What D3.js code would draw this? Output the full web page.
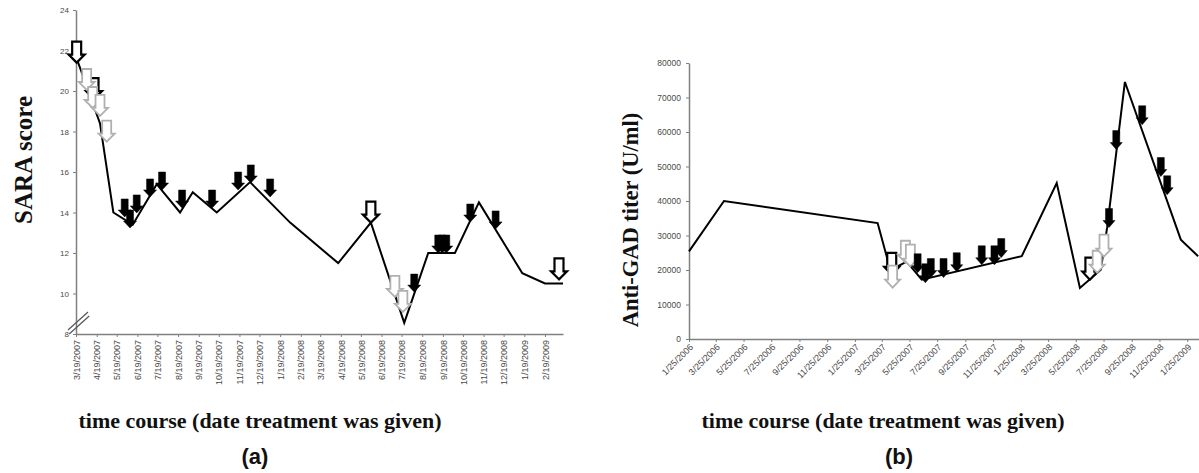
<!DOCTYPE html>
<html>
<head>
<meta charset="utf-8">
<script src="https://cdn.jsdelivr.net/npm/d3@7"></script>
<style>
  body { margin: 0; background: #fff; }
  .tick text { font-family: "Liberation Sans", Arial, sans-serif; fill: #4a4a4a; }
  .domain, .tick line { stroke: #808080; }
  .title { font-family: "Liberation Serif", "Times New Roman", serif; font-weight: bold; fill: #111; }
  .panel { font-family: "Liberation Sans", Arial, sans-serif; fill: #111; }
</style>
</head>
<body>
<div id="chart"></div>
<script>
// ---- Panel (a): SARA score ----
const sara_dates = ["2007-03-19","2007-04-24","2007-05-14","2007-06-12","2007-07-18","2007-08-22",
  "2007-09-10","2007-10-16","2007-12-05","2008-02-03","2008-04-15","2008-06-03","2008-07-23",
  "2008-08-28","2008-10-07","2008-11-12","2009-01-16","2009-02-19","2009-03-18"];
const sara_values = [21.7, 18.4, 14.0, 13.4, 15.4, 14.0, 15.0, 14.0, 15.5, 13.5, 11.5, 13.5, 8.55,
  12.0, 12.0, 14.5, 11.0, 10.5, 10.5];
const sara_ticks = ["3/19/2007","4/19/2007","5/19/2007","6/19/2007","7/19/2007","8/19/2007",
  "9/19/2007","10/19/2007","11/19/2007","12/19/2007","1/19/2008","2/19/2008","3/19/2008",
  "4/19/2008","5/19/2008","6/19/2008","7/19/2008","8/19/2008","9/19/2008","10/19/2008",
  "11/19/2008","12/19/2008","1/19/2009","2/19/2009"];
const sara_yticks = [8, 10, 12, 14, 16, 18, 20, 22, 24];
// treatment arrows (tip position): "open" = black outline, "light" = grey outline, "filled" = black
const sara_arrows = [
  ["2007-03-20", 21.4, "open"], ["2007-04-15", 19.6, "open"], ["2008-06-03", 13.5, "open"], ["2009-03-12", 10.7, "open"],
  ["2007-04-04", 20.05, "light"], ["2007-04-13", 19.16, "light"], ["2007-04-24", 18.77, "light"], ["2007-05-04", 17.5, "light"],
  ["2008-07-09", 9.83, "light"], ["2008-07-21", 9.09, "light"],
  ["2007-05-31", 13.78, "filled"], ["2007-06-08", 13.23, "filled"], ["2007-06-18", 13.98, "filled"],
  ["2007-07-08", 14.77, "filled"], ["2007-07-26", 15.11, "filled"], ["2007-08-25", 14.22, "filled"],
  ["2007-10-09", 14.22, "filled"], ["2007-11-17", 15.11, "filled"], ["2007-12-06", 15.46, "filled"],
  ["2008-01-04", 14.77, "filled"], ["2008-08-07", 10.07, "filled"], ["2008-09-12", 12.0, "filled"],
  ["2008-09-18", 12.0, "filled"], ["2008-09-24", 12.0, "filled"], ["2008-10-30", 13.53, "filled"],
  ["2008-12-07", 13.19, "filled"]
];

// ---- Panel (b): Anti-GAD titer ----
const gad_dates = ["2006-01-25","2006-04-12","2007-03-16","2007-04-13","2007-05-19","2007-06-21",
  "2008-01-27","2008-04-13","2008-06-03","2008-07-19","2008-08-02","2008-09-10","2009-01-11","2009-02-18"];
const gad_values = [25400, 40000, 33600, 20000, 22400, 17200, 24000, 45200, 14800, 20100, 32400,
  74500, 28800, 24000];
const gad_ticks = ["1/25/2006","3/25/2006","5/25/2006","7/25/2006","9/25/2006","11/25/2006",
  "1/25/2007","3/25/2007","5/25/2007","7/25/2007","9/25/2007","11/25/2007","1/25/2008",
  "3/25/2008","5/25/2008","7/25/2008","9/25/2008","11/25/2008","1/25/2009"];
const gad_yticks = [0, 10000, 20000, 30000, 40000, 50000, 60000, 70000, 80000];
const gad_arrows = [
  ["2007-04-16", 18600, "open"], ["2008-06-25", 17200, "open"],
  ["2007-04-18", 14900, "light"], ["2007-05-16", 22100, "light"], ["2007-05-27", 21000, "light"],
  ["2008-07-11", 19200, "light"], ["2008-07-26", 23900, "light"],
  ["2007-06-12", 19200, "filled"], ["2007-06-29", 16300, "filled"], ["2007-07-11", 17800, "filled"],
  ["2007-08-08", 17800, "filled"], ["2007-09-06", 19500, "filled"], ["2007-10-31", 21500, "filled"],
  ["2007-11-28", 21500, "filled"], ["2007-12-13", 23600, "filled"], ["2008-08-06", 32300, "filled"],
  ["2008-08-22", 54900, "filled"], ["2008-10-18", 62100, "filled"], ["2008-11-28", 47100, "filled"],
  ["2008-12-12", 41800, "filled"]
];

const parseIso = d3.utcParse("%Y-%m-%d");
const parseTick = d3.utcParse("%m/%d/%Y");
const fmtTick = d3.utcFormat("%-m/%-d/%Y");

const svg = d3.select("#chart").append("svg")
  .attr("width", 1199)
  .attr("height", 473);

// arrow path with tip at (0,0)
function arrowPath(w, h, shaft, head) {
  const hw = w / 2, s = shaft / 2;
  return `M0,0 L${-hw},${-head} L${-s},${-head} L${-s},${-h} L${s},${-h} L${s},${-head} L${hw},${-head} Z`;
}

function drawArrows(g, arrows, x, y, size) {
  g.selectAll(".arrow")
    .data(arrows.map(a => ({ date: parseIso(a[0]), value: a[1], kind: a[2] })))
    .enter().append("path")
    .attr("class", "arrow")
    .attr("transform", d => "translate(" + x(d.date) + "," + y(d.value) + ")")
    .attr("d", d => d.kind === "filled"
      ? arrowPath(size.w, size.h, size.shaft, size.head)
      : arrowPath(size.w + 3, size.h + 3, size.shaft + 2, size.head + 1))
    .attr("fill", d => d.kind === "filled" ? "#000" : "#fff")
    .attr("stroke", d => d.kind === "light" ? "#b0b0b0" : "#000")
    .attr("stroke-width", d => d.kind === "filled" ? 0.5 : (d.kind === "open" ? 2.2 : 1.8))
    .attr("stroke-linejoin", "miter");
}

// ========== Panel (a) ==========
const xA = d3.scaleUtc()
  .domain([parseIso("2007-03-19"), parseIso("2009-03-18")])
  .range([76, 563]);
const yA = d3.scaleLinear().domain([8, 24]).range([334, 10]);

const gA = svg.append("g");

gA.append("g")
  .attr("transform", "translate(0,334)")
  .call(d3.axisBottom(xA).tickValues(sara_ticks.map(parseTick)).tickFormat(fmtTick)
    .tickSizeInner(3).tickSizeOuter(0))
  .call(g => g.select(".domain").attr("stroke-width", 1.5))
  .call(g => g.selectAll(".tick text")
    .attr("font-size", 9)
    .attr("text-anchor", "end")
    .attr("transform", "rotate(-90)")
    .attr("x", -6).attr("y", 0).attr("dy", "0.35em"));

gA.append("g")
  .attr("transform", "translate(76,0)")
  .call(d3.axisLeft(yA).tickValues(sara_yticks).tickSizeInner(3).tickSizeOuter(0))
  .call(g => g.select(".domain").attr("stroke-width", 1.5))
  .call(g => g.selectAll(".tick text").attr("font-size", 8).attr("x", -7));

// axis break marks
gA.append("g")
  .selectAll("line")
  .data([0, 4])
  .enter().append("line")
  .attr("x1", d => 68 + d * 0.3).attr("y1", d => 330 + d)
  .attr("x2", d => 88 + d * 0.3).attr("y2", d => 312 + d)
  .attr("stroke", "#555").attr("stroke-width", 1.2);

const lineA = d3.line()
  .x((d, i) => xA(parseIso(sara_dates[i])))
  .y(d => yA(d));

gA.append("path")
  .datum(sara_values)
  .attr("fill", "none")
  .attr("stroke", "#000")
  .attr("stroke-width", 2)
  .attr("d", lineA);

drawArrows(gA, sara_arrows, xA, yA, { w: 13, h: 18, shaft: 7, head: 7 });

gA.append("text")
  .attr("class", "title")
  .attr("font-size", 25)
  .attr("text-anchor", "middle")
  .attr("transform", "translate(32,160) rotate(-90)")
  .text("SARA score");

gA.append("text")
  .attr("class", "title")
  .attr("font-size", 22)
  .attr("text-anchor", "middle")
  .attr("x", 260).attr("y", 428)
  .text("time course (date treatment was given)");

gA.append("text")
  .attr("class", "panel")
  .attr("font-size", 22)
  .attr("font-weight", "bold")
  .attr("text-anchor", "middle")
  .attr("x", 255).attr("y", 464)
  .text("(a)");

// ========== Panel (b) ==========
const xB = d3.scaleUtc()
  .domain([parseIso("2006-01-25"), parseIso("2009-02-20")])
  .range([689, 1199]);
const yB = d3.scaleLinear().domain([0, 80000]).range([339, 63]);

const gB = svg.append("g");

gB.append("g")
  .attr("transform", "translate(0,339)")
  .call(d3.axisBottom(xB).tickValues(gad_ticks.map(parseTick)).tickFormat(fmtTick)
    .tickSizeInner(3).tickSizeOuter(0))
  .call(g => g.select(".domain").attr("stroke-width", 1.5))
  .call(g => g.selectAll(".tick text")
    .attr("font-size", 9)
    .attr("text-anchor", "end")
    .attr("transform", "rotate(-45)")
    .attr("x", -3).attr("y", 6).attr("dy", "0.35em"));

gB.append("g")
  .attr("transform", "translate(689,0)")
  .call(d3.axisLeft(yB).tickValues(gad_yticks).tickFormat(d3.format("d")).tickSizeInner(3).tickSizeOuter(0))
  .call(g => g.select(".domain").attr("stroke-width", 1.5))
  .call(g => g.selectAll(".tick text").attr("font-size", 8.5).attr("x", -8));

const lineB = d3.line()
  .x((d, i) => xB(parseIso(gad_dates[i])))
  .y(d => yB(d));

gB.append("path")
  .datum(gad_values)
  .attr("fill", "none")
  .attr("stroke", "#000")
  .attr("stroke-width", 2)
  .attr("d", lineB);

drawArrows(gB, gad_arrows, xB, yB, { w: 12, h: 19, shaft: 7, head: 7 });

gB.append("text")
  .attr("class", "title")
  .attr("font-size", 22.5)
  .attr("text-anchor", "middle")
  .attr("transform", "translate(638,220) rotate(-90)")
  .text("Anti-GAD titer (U/ml)");

gB.append("text")
  .attr("class", "title")
  .attr("font-size", 22)
  .attr("text-anchor", "middle")
  .attr("x", 883).attr("y", 428)
  .text("time course (date treatment was given)");

gB.append("text")
  .attr("class", "panel")
  .attr("font-size", 22)
  .attr("font-weight", "bold")
  .attr("text-anchor", "middle")
  .attr("x", 899).attr("y", 464)
  .text("(b)");
</script>
</body>
</html>
